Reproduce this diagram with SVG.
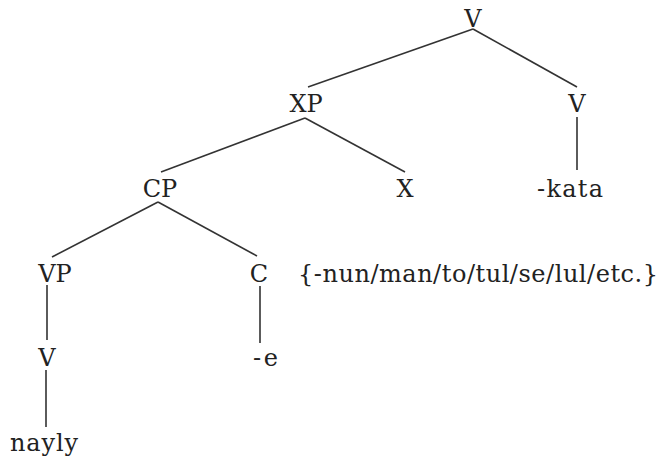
<svg xmlns="http://www.w3.org/2000/svg" width="660" height="459" viewBox="0 0 660 459">
<style>
text{font-family:"DejaVu Serif","Liberation Serif",serif;font-size:24px;fill:#222}
.m{text-anchor:middle}
.e line{stroke:#333;stroke-width:1.6;fill:none}
</style>
<rect width="660" height="459" fill="#fff"/>
<g class="e" id="connectors">
<line x1="473" y1="29" x2="308" y2="87"/>
<line x1="473" y1="29" x2="577" y2="87"/>
<line x1="577" y1="117" x2="577" y2="170"/>
<line x1="305" y1="118" x2="161" y2="172"/>
<line x1="305" y1="118" x2="405" y2="172"/>
<line x1="158" y1="202" x2="52" y2="257"/>
<line x1="158" y1="202" x2="257" y2="256"/>
<line x1="47" y1="285" x2="47" y2="340"/>
<line x1="46" y1="370" x2="46" y2="427"/>
<line x1="260" y1="286" x2="260" y2="343"/>
</g>
<g id="n-v-top"><text class="m" x="473" y="27">V</text></g>
<g id="n-xp"><text class="m" x="306" y="112">XP</text></g>
<g id="n-v-right"><text class="m" x="577" y="112">V</text></g>
<g id="n-kata"><text x="537" y="197" textLength="66" lengthAdjust="spacing">-kata</text></g>
<g id="n-cp"><text class="m" x="160" y="197">CP</text></g>
<g id="n-x"><text class="m" x="405" y="197">X</text></g>
<g id="n-vp"><text class="m" x="55" y="282">VP</text></g>
<g id="n-c"><text class="m" x="259" y="282">C</text></g>
<g id="n-set"><text x="298" y="282" textLength="360" lengthAdjust="spacing">{-nun/man/to/tul/se/lul/etc.}</text></g>
<g id="n-v-low"><text class="m" x="47" y="366">V</text></g>
<g id="n-e"><text x="253" y="366" textLength="25" lengthAdjust="spacing">-e</text></g>
<g id="n-nayly"><text x="10" y="451" textLength="68" lengthAdjust="spacing">nayly</text></g>
</svg>
